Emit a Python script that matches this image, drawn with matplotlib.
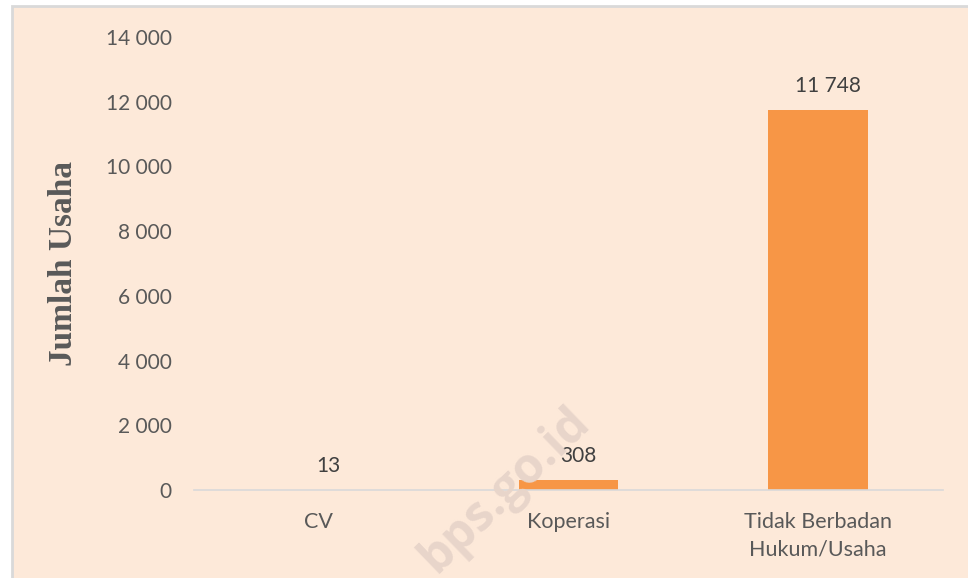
import matplotlib
matplotlib.use("Agg")
import matplotlib.pyplot as plt
from matplotlib.patches import Rectangle

categories = ["CV", "Koperasi", "Tidak Berbadan\nHukum/Usaha"]
values = [13, 308, 11748]
yticks = [0, 2000, 4000, 6000, 8000, 10000, 12000, 14000]

BG = "#FDE9D9"
BAR = "#F79646"
TXT = "#595959"


def fmt(v):
    return f"{v:,}".replace(",", " ")


fig = plt.figure(figsize=(9.68, 5.78), dpi=100)
fig.patch.set_facecolor("white")
fig.add_artist(Rectangle((12 / 968, -0.01), 1.0, 1 - 6 / 578 + 0.01,
                         transform=fig.transFigure, facecolor=BG,
                         edgecolor="#D9D9D9", linewidth=2, zorder=0))

# watermark
fig.text(505 / 968, 1 - 490 / 578, "bps.go.id", rotation=44, ha="center",
         va="center", fontsize=35, fontweight="bold", family="Open Sans",
         color="#E8D5CA", zorder=1)

ax = fig.add_axes([194 / 968, 88 / 578, 749 / 968, 453 / 578])
ax.set_facecolor("none")
x = range(len(categories))
ax.bar(x, values, width=0.4, color=BAR, zorder=2)
for xi, v in zip(x, values):
    ax.annotate(fmt(v), (xi, v), xytext=(7, 10), textcoords="offset points",
                ha="center", va="bottom", fontsize=15, color="#404040",
                family="Lato")

ax.set_xlim(-0.5, 2.5)
ax.set_ylim(0, 14000)
ax.set_yticks(yticks)
ax.set_yticklabels([fmt(t) for t in yticks], fontsize=15, color=TXT, family="Lato")
ax.set_xticks(list(x))
ax.set_xticklabels(categories, fontsize=15.5, color=TXT, family="Lato",
                   linespacing=1.45)
ax.tick_params(length=0, axis="y", pad=16)
ax.tick_params(length=0, axis="x", pad=16)
for s in ["top", "right", "left"]:
    ax.spines[s].set_visible(False)
ax.spines["bottom"].set_color("#D9D9D9")
ax.spines["bottom"].set_linewidth(1.2)

fig.text(64 / 968, 1 - 263 / 578, "Jumlah Usaha", rotation=90, ha="center",
         va="center", fontsize=24, fontweight="bold", family="Liberation Serif",
         color=TXT)

fig.savefig("out.png", dpi=100)
